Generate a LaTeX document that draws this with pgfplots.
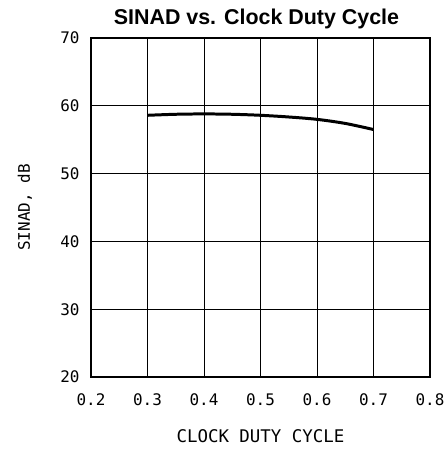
\documentclass[border=0pt]{standalone}
\usepackage{pgfplots}
\pgfplotsset{compat=1.18}
\usepackage{fontspec}
\setmainfont{Liberation Sans}
\newfontfamily\monof{DejaVu Sans Mono}
\begin{document}
\begin{tikzpicture}
\begin{axis}[
  scale only axis,
  width=339bp, height=339bp,
  xmin=0.2, xmax=0.8, ymin=20, ymax=70,
  xtick={0.2,0.3,0.4,0.5,0.6,0.7,0.8},
  ytick={20,30,40,50,60,70},
  xticklabels={0.2,0.3,0.4,0.5,0.6,0.7,0.8},
  grid=major,
  major grid style={black, line width=0.8pt},
  axis line style={black, line width=1.2pt},
  major tick length=0pt,
  tick label style={font=\monof\fontsize{16}{18}\selectfont},
  xticklabel style={anchor=north, yshift=-13bp},
  yticklabel style={anchor=east, xshift=-8bp},
  /pgf/number format/assume math mode=true,
  xlabel={CLOCK DUTY CYCLE},
  ylabel={SINAD, dB},
  xlabel style={font=\monof\fontsize{17.5}{19}\selectfont, at={(axis description cs:0.5,0)}, anchor=center, yshift=-59bp},
  ylabel style={font=\monof\fontsize{16}{18}\selectfont, at={(axis description cs:0,0.5)}, anchor=center, rotate=0, yshift=66bp},
  title={SINAD vs. Clock Duty Cycle},
  title style={font=\bfseries\fontsize{21.5}{23}\selectfont, at={(axis description cs:0.5,1)}, anchor=base, yshift=8bp, xshift=-4bp},
]
\addplot[black, line width=3pt, smooth] coordinates {
  (0.3,58.6) (0.35,58.75) (0.4,58.8) (0.45,58.75) (0.5,58.6) (0.55,58.35) (0.6,58.0) (0.65,57.4) (0.7,56.5)
};
\end{axis}
\path ([shift={(-91bp,-72bp)}]current axis.south west) rectangle ([shift={(15bp,38bp)}]current axis.north east);
\end{tikzpicture}
\end{document}
